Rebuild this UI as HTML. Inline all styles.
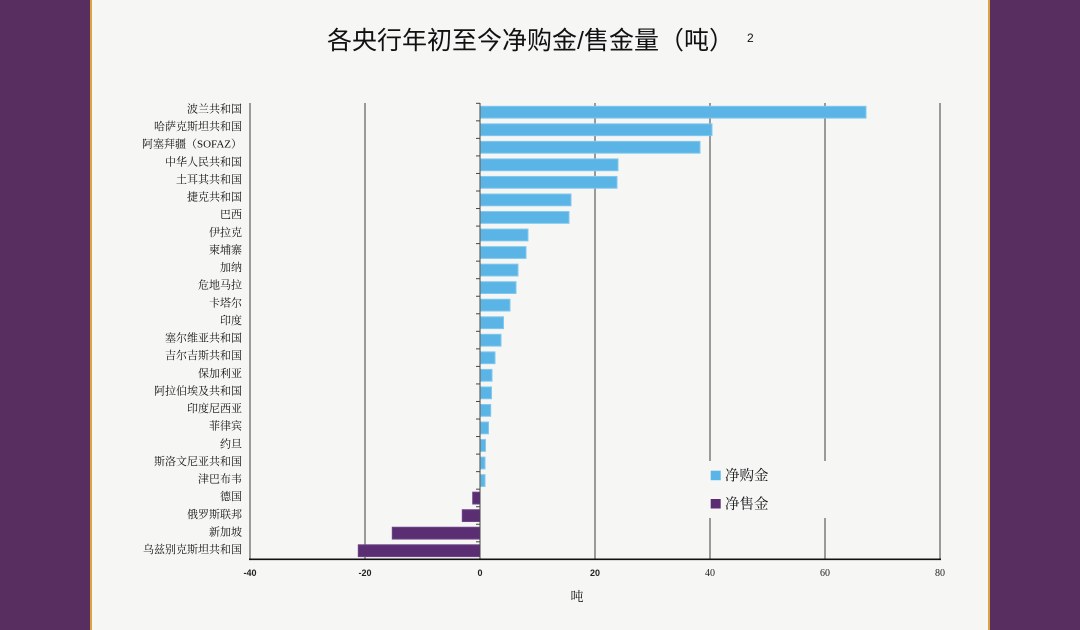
<!DOCTYPE html>
<html><head><meta charset="utf-8"><style>
html,body{margin:0;padding:0;}
body{width:1080px;height:630px;overflow:hidden;background:#f6f6f5;}
svg{display:block;}
.lab{font-family:"Liberation Serif","Noto Serif CJK SC",serif;font-size:11px;fill:#111;}
.tk{font-family:"Liberation Sans",sans-serif;font-size:9px;fill:#222;font-weight:bold;}
.tks{font-family:"Liberation Serif",serif;font-size:10px;fill:#222;}
</style></head><body>
<svg width="1080" height="630" viewBox="0 0 1080 630" xmlns="http://www.w3.org/2000/svg">
<rect x="0" y="0" width="1080" height="630" fill="#f6f6f5"/>
<!-- side panels -->
<rect x="0" y="0" width="90" height="630" fill="#582d60"/>
<rect x="90" y="0" width="2" height="630" fill="#d9a441"/>
<rect x="990" y="0" width="90" height="630" fill="#582d60"/>
<rect x="988" y="0" width="2" height="630" fill="#d9a441"/>

<!-- title -->
<text x="327" y="49" font-family="'Liberation Sans','Noto Sans CJK SC',sans-serif" font-size="25" fill="#111">各央行年初至今净购金/售金量（吨）</text>
<text x="747" y="42" font-family="'Liberation Sans',sans-serif" font-size="12" fill="#111">2</text>

<!-- gridlines -->
<g stroke="#9a9a9a" stroke-width="2">
<line x1="250" y1="103" x2="250" y2="559"/>
<line x1="365" y1="103" x2="365" y2="559"/>
<line x1="595" y1="103" x2="595" y2="559"/>
<line x1="710" y1="103" x2="710" y2="559"/>
<line x1="825" y1="103" x2="825" y2="559"/>
<line x1="940" y1="103" x2="940" y2="559"/>
</g>

<!-- bars positive -->
<g fill="#5ab4e5" stroke="#82c8ee" stroke-width="1">
<rect x="480.5" y="106.3" width="385.5" height="11.8"/>
<rect x="480.5" y="123.84" width="231.5" height="11.8"/>
<rect x="480.5" y="141.38" width="219.5" height="11.8"/>
<rect x="480.5" y="158.92" width="137.5" height="11.8"/>
<rect x="480.5" y="176.46" width="136.5" height="11.8"/>
<rect x="480.5" y="194.0" width="90.5" height="11.8"/>
<rect x="480.5" y="211.54" width="88.5" height="11.8"/>
<rect x="480.5" y="229.08" width="47.5" height="11.8"/>
<rect x="480.5" y="246.62" width="45.5" height="11.8"/>
<rect x="480.5" y="264.16" width="37.5" height="11.8"/>
<rect x="480.5" y="281.7" width="35.5" height="11.8"/>
<rect x="480.5" y="299.24" width="29.5" height="11.8"/>
<rect x="480.5" y="316.78" width="23" height="11.8"/>
<rect x="480.5" y="334.32" width="20.5" height="11.8"/>
<rect x="480.5" y="351.86" width="14.5" height="11.8"/>
<rect x="480.5" y="369.4" width="11.5" height="11.8"/>
<rect x="480.5" y="386.94" width="11" height="11.8"/>
<rect x="480.5" y="404.48" width="10.2" height="11.8"/>
<rect x="480.5" y="422.02" width="8" height="11.8"/>
<rect x="480.5" y="439.56" width="5" height="11.8"/>
<rect x="480.5" y="457.1" width="4.5" height="11.8"/>
<rect x="480.5" y="474.64" width="4.5" height="11.8"/>
</g>
<!-- bars negative -->
<g fill="#5b2e74" stroke="#6e4486" stroke-width="1">
<rect x="472.7" y="492.18" width="7.3" height="11.8"/>
<rect x="462.3" y="509.72" width="17.7" height="11.8"/>
<rect x="392.3" y="527.26" width="87.7" height="11.8"/>
<rect x="358.3" y="544.8" width="121.7" height="11.8"/>
</g>

<!-- zero axis with ticks -->
<g stroke="#444" stroke-width="1">
<line x1="480" y1="103" x2="480" y2="559"/>
<line x1="476" y1="103.3" x2="480" y2="103.3"/>
<line x1="476" y1="120.84" x2="480" y2="120.84"/>
<line x1="476" y1="138.38" x2="480" y2="138.38"/>
<line x1="476" y1="155.92" x2="480" y2="155.92"/>
<line x1="476" y1="173.46" x2="480" y2="173.46"/>
<line x1="476" y1="191.0" x2="480" y2="191.0"/>
<line x1="476" y1="208.54" x2="480" y2="208.54"/>
<line x1="476" y1="226.08" x2="480" y2="226.08"/>
<line x1="476" y1="243.62" x2="480" y2="243.62"/>
<line x1="476" y1="261.16" x2="480" y2="261.16"/>
<line x1="476" y1="278.7" x2="480" y2="278.7"/>
<line x1="476" y1="296.24" x2="480" y2="296.24"/>
<line x1="476" y1="313.78" x2="480" y2="313.78"/>
<line x1="476" y1="331.32" x2="480" y2="331.32"/>
<line x1="476" y1="348.86" x2="480" y2="348.86"/>
<line x1="476" y1="366.4" x2="480" y2="366.4"/>
<line x1="476" y1="383.94" x2="480" y2="383.94"/>
<line x1="476" y1="401.48" x2="480" y2="401.48"/>
<line x1="476" y1="419.02" x2="480" y2="419.02"/>
<line x1="476" y1="436.56" x2="480" y2="436.56"/>
<line x1="476" y1="454.1" x2="480" y2="454.1"/>
<line x1="476" y1="471.64" x2="480" y2="471.64"/>
<line x1="476" y1="489.18" x2="480" y2="489.18"/>
<line x1="476" y1="506.72" x2="480" y2="506.72"/>
<line x1="476" y1="524.26" x2="480" y2="524.26"/>
<line x1="476" y1="541.8" x2="480" y2="541.8"/>
</g>

<!-- x axis -->
<line x1="249" y1="559.3" x2="941" y2="559.3" stroke="#111" stroke-width="1.6"/>

<!-- x tick labels -->
<g text-anchor="middle">
<text class="tk" x="250" y="576">-40</text>
<text class="tk" x="365" y="576">-20</text>
<text class="tk" x="480" y="576">0</text>
<text class="tk" x="595" y="576">20</text>
<text class="tks" x="710" y="576">40</text>
<text class="tks" x="825" y="576">60</text>
<text class="tks" x="940" y="576">80</text>
</g>
<text x="577" y="601" text-anchor="middle" font-family="'Liberation Serif','Noto Serif CJK SC',serif" font-size="13" fill="#111">吨</text>

<!-- category labels -->
<g class="lab" text-anchor="end" dominant-baseline="central">
<text x="242" y="109.5">波兰共和国</text>
<text x="242" y="127.1">哈萨克斯坦共和国</text>
<text x="242" y="144.7">阿塞拜疆（SOFAZ）</text>
<text x="242" y="162.4">中华人民共和国</text>
<text x="242" y="180.0">土耳其共和国</text>
<text x="242" y="197.6">捷克共和国</text>
<text x="242" y="215.2">巴西</text>
<text x="242" y="232.8">伊拉克</text>
<text x="242" y="250.5">柬埔寨</text>
<text x="242" y="268.1">加纳</text>
<text x="242" y="285.7">危地马拉</text>
<text x="242" y="303.3">卡塔尔</text>
<text x="242" y="320.9">印度</text>
<text x="242" y="338.6">塞尔维亚共和国</text>
<text x="242" y="356.2">吉尔吉斯共和国</text>
<text x="242" y="373.8">保加利亚</text>
<text x="242" y="391.4">阿拉伯埃及共和国</text>
<text x="242" y="409.0">印度尼西亚</text>
<text x="242" y="426.7">菲律宾</text>
<text x="242" y="444.3">约旦</text>
<text x="242" y="461.9">斯洛文尼亚共和国</text>
<text x="242" y="479.5">津巴布韦</text>
<text x="242" y="497.1">德国</text>
<text x="242" y="514.8">俄罗斯联邦</text>
<text x="242" y="532.4">新加坡</text>
<text x="242" y="550.0">乌兹别克斯坦共和国</text>
</g>

<!-- legend -->
<rect x="700" y="461" width="180" height="57" fill="#f6f6f5"/>
<rect x="710.7" y="470.7" width="10" height="9.5" fill="#5ab4e5"/>
<rect x="710.7" y="499" width="10" height="9.5" fill="#5b2e74"/>
<g font-family="'Liberation Serif','Noto Serif CJK SC',serif" font-size="14.5" fill="#111">
<text x="725" y="480.5">净购金</text>
<text x="725" y="509">净售金</text>
</g>
</svg>
</body></html>
